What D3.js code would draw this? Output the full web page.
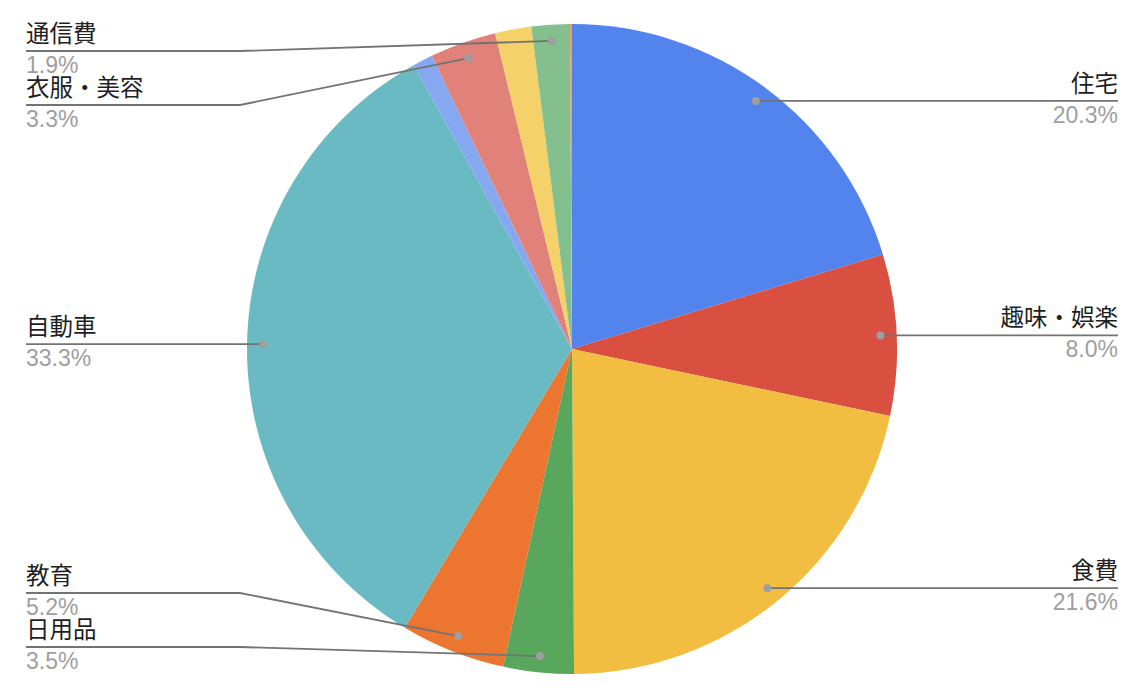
<!DOCTYPE html>
<html><head><meta charset="utf-8">
<script src="https://cdn.jsdelivr.net/npm/d3@7"></script>
<style>
html,body{margin:0;padding:0;background:#fff;}
svg{display:block;}
</style>
</head><body>
<svg id="chart" width="1144" height="696"></svg>
<script>
// Data (clockwise from 12 o'clock); empty names are slices without a label
const categories = ["住宅", "趣味・娯楽", "食費", "日用品", "教育", "自動車", "", "衣服・美容", "", "通信費", ""];
const values     = [20.3, 8.0, 21.6, 3.5, 5.2, 33.3, 1.0, 3.3, 1.8, 1.9, 0.1];
const colors     = ["#5383EC", "#D95040", "#F1BE42", "#58A75C", "#EC7530", "#69BAC3", "#86A8F1", "#E0817A", "#F5D16A", "#84C08E", "#F39C49"];

const W = 1144, H = 696;
const cx = 572, cy = 349, R = 325;
const svg = d3.select("#chart");
const g = svg.append("g").attr("transform", `translate(${cx},${cy})`);

const data = categories.map((c, i) => ({ name: c, value: values[i], color: colors[i], i }));
const total = d3.sum(values);
const pie = d3.pie().value(d => d.value).sort(null);
const arcs = pie(data);
const arc = d3.arc().innerRadius(0).outerRadius(R);
const dotArc = d3.arc().innerRadius(R * 0.95).outerRadius(R * 0.95);

g.selectAll("path.slice").data(arcs).join("path")
  .attr("class", "slice")
  .attr("d", arc)
  .attr("fill", d => d.data.color);

// labels
const fmt = d3.format(".1%");
const labeled = arcs.filter(d => d.data.name !== "").map(d => {
  const [x, y] = dotArc.centroid(d);
  const mid = (d.startAngle + d.endAngle) / 2;
  return { d, dx: x + cx, dy: y + cy, side: mid < Math.PI ? "right" : "left", ly: y + cy };
});

function resolve(list, minY, maxY, gap) {
  list.sort((a, b) => a.dy - b.dy);
  let prev = -Infinity;
  list.forEach(l => { l.ly = Math.max(l.dy, prev + gap, minY); prev = l.ly; });
  let next = Infinity;
  for (let k = list.length - 1; k >= 0; k--) {
    const l = list[k];
    l.ly = Math.min(l.ly, next - gap, maxY);
    next = l.ly;
  }
}
const left = labeled.filter(l => l.side === "left");
const right = labeled.filter(l => l.side === "right");
resolve(left, 51, 647, 54);
resolve(right, 51, 647, 54);

const leftX = 26, rightX = 1118, elbowL = 240, elbowR = 904;
const lg = svg.append("g");
labeled.forEach(l => {
  let pts;
  if (l.side === "left") pts = [[leftX, l.ly], [elbowL, l.ly], [l.dx, l.dy]];
  else pts = [[l.dx, l.dy], [Math.max(elbowR, l.dx), l.ly], [rightX, l.ly]];
  lg.append("path")
    .attr("d", d3.line()(pts))
    .attr("fill", "none")
    .attr("stroke", "#737373")
    .attr("stroke-width", 1.8);
  lg.append("circle").attr("cx", l.dx).attr("cy", l.dy).attr("r", 4).attr("fill", "#9e9e9e");
  const tx = l.side === "left" ? leftX : rightX;
  const anchor = l.side === "left" ? "start" : "end";
  lg.append("text")
    .attr("x", tx).attr("y", l.ly - 9)
    .attr("text-anchor", anchor)
    .attr("font-family", "'Noto Sans CJK JP', sans-serif")
    .attr("font-size", 23.5)
    .attr("fill", "#1f1f1f")
    .text(l.d.data.name);
  lg.append("text")
    .attr("x", tx).attr("y", l.ly + 22)
    .attr("text-anchor", anchor)
    .attr("font-family", "'Liberation Sans', Arial, sans-serif")
    .attr("font-size", 23)
    .attr("fill", "#9e9e9e")
    .text(fmt(l.d.data.value / total));
});
</script>
</body></html>
